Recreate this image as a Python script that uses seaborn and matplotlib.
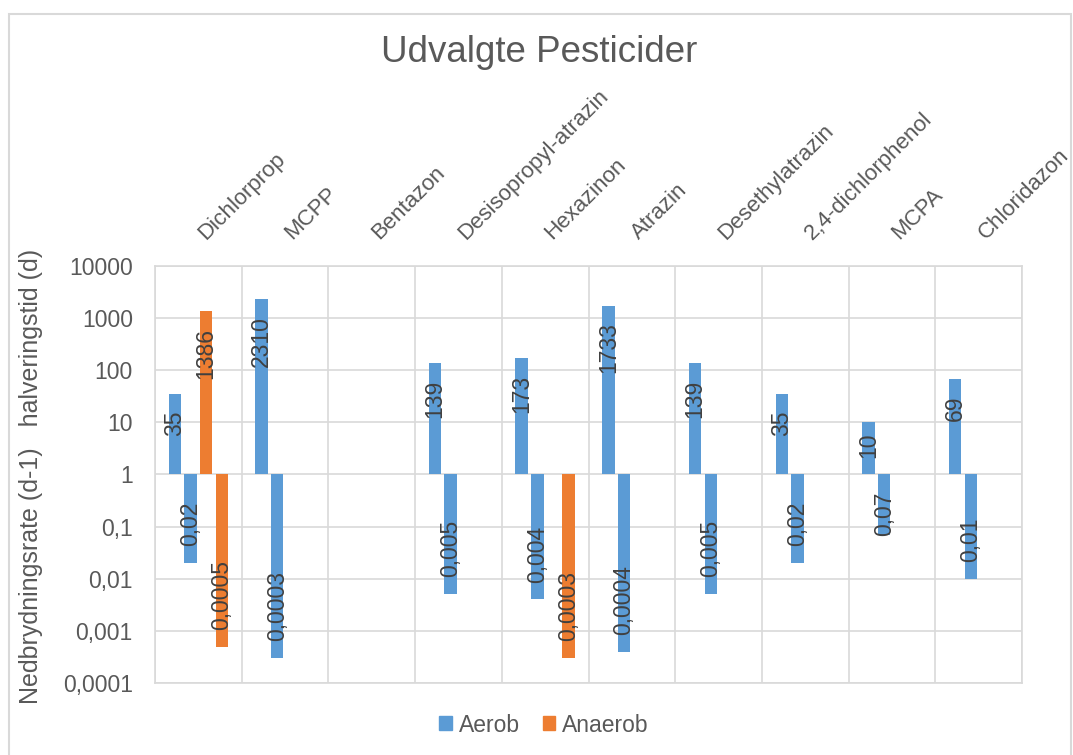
import numpy as np
import pandas as pd
import seaborn as sns
from matplotlib import pyplot as plt
from matplotlib.patches import Patch, Rectangle
from matplotlib.ticker import FuncFormatter, FixedLocator
import matplotlib.transforms as mtransforms

stoffer = ["Dichlorprop", "MCPP", "Bentazon", "Desisopropyl-atrazin", "Hexazinon",
           "Atrazin", "Desethylatrazin", "2,4-dichlorphenol", "MCPA", "Chloridazon"]
aerob_halv = [35, 2310, None, 139, 173, 1733, 139, 35, 10, 69]
aerob_rate = [0.02, 0.0003, None, 0.005, 0.004, 0.0004, 0.005, 0.02, 0.07, 0.01]
anaerob_halv = [1386, None, None, None, None, None, None, None, None, None]
anaerob_rate = [0.0005, None, None, None, 0.0003, None, None, None, None, None]

serier = ["Aerob halv", "Aerob rate", "Anaerob halv", "Anaerob rate"]
BLAA = "#5B9BD5"
ORANGE = "#ED7D31"
farver = [BLAA, BLAA, ORANGE, ORANGE]
GRAA = "#D9D9D9"
TEKST = "#595959"

rows = []
for serie, vals in zip(serier, [aerob_halv, aerob_rate, anaerob_halv, anaerob_rate]):
    for stof, v in zip(stoffer, vals):
        if v is not None:
            rows.append({"stof": stof, "serie": serie, "vaerdi": v})
df = pd.DataFrame(rows)
# Excel-agtig log-akse med base i 1: tegn log10 paa lineaer akse
df["log"] = np.log10(df["vaerdi"])
opslag = {(r.stof, r.serie): r.vaerdi for r in df.itertuples()}


def dansk(v):
    return "{:g}".format(v).replace(".", ",")


def akse_fmt(y, pos):
    k = int(round(y))
    if k >= 0:
        return str(10 ** k)
    return "0," + "0" * (-k - 1) + "1"


sns.set_style("white")
plt.rcParams["font.family"] = ["Liberation Sans", "DejaVu Sans"]

fig = plt.figure(figsize=(10.73, 7.55), dpi=100)
ax = fig.add_axes([155 / 1073, 1 - 683 / 755, 867 / 1073, 417 / 755])

sns.barplot(data=df, x="stof", y="log", hue="serie", order=stoffer, hue_order=serier,
            palette=farver, saturation=1, width=0.72, gap=0.2, errorbar=None,
            legend=False, linewidth=0, ax=ax)

ax.set_ylim(-4, 4)
ax.set_xlim(-0.5, len(stoffer) - 0.5)
ax.yaxis.set_major_locator(FixedLocator(range(-4, 5)))
ax.yaxis.set_major_formatter(FuncFormatter(akse_fmt))
ax.set_xticks(range(len(stoffer)))
ax.set_xticks(np.arange(-0.5, len(stoffer), 1), minor=True)
ax.xaxis.tick_top()
ax.set_xticklabels(stoffer, rotation=45, ha="left", va="bottom")
ax.tick_params(axis="x", which="both", length=0, pad=16, labelsize=16, labelcolor=TEKST)
ax.tick_params(axis="y", length=0, pad=16, labelsize=16.5, labelcolor=TEKST)
skub = mtransforms.ScaledTranslation(-4 / 100, 0, fig.dpi_scale_trans)
for lbl in ax.get_xticklabels():
    lbl.set_transform(lbl.get_transform() + skub)
ax.set_xlabel("")
ax.set_ylabel("")
ax.grid(False)
ax.grid(axis="y", which="major", color=GRAA, linewidth=1.2)
ax.grid(axis="x", which="minor", color=GRAA, linewidth=1.2)
ax.set_axisbelow(True)
for sp in ax.spines.values():
    sp.set_color(GRAA)
    sp.set_linewidth(1.2)

# dataetiketter
afstand = 12.2  # points, ca. 17 px
renderer = fig.canvas.get_renderer()
for p in ax.patches:
    h = p.get_height()
    if not np.isfinite(h) or h == 0:
        continue
    xc = p.get_x() + p.get_width() / 2
    idx = int(round(xc))
    slot = int(round((xc - idx) / 0.18 + 1.5))
    val = opslag[(stoffer[idx], serier[slot])]
    tegn = 1 if h > 0 else -1
    t = ax.annotate(dansk(val), (xc, h), xytext=(0, -tegn * afstand),
                    textcoords="offset points", rotation=90, ha="center",
                    va="top" if tegn > 0 else "bottom", fontsize=16.5,
                    color="#404040")
    bar_px = abs(ax.transData.transform((0, h))[1] - ax.transData.transform((0, 0))[1])
    lbl_px = t.get_window_extent(renderer).height
    if lbl_px + 2 * afstand * 100 / 72 > bar_px:
        t.xy = (xc, 0)
        t.set_position((0, tegn * afstand))
        t.set_va("bottom" if tegn > 0 else "top")

fig.text(539 / 1073, 1 - 52 / 755, "Udvalgte Pesticider", ha="center", va="center",
         fontsize=26.5, color=TEKST)
fig.text(31 / 1073, 1 - 476 / 755, "Nedbrydningsrate (d-1)   halveringstid (d)",
         rotation=90, ha="center", va="center", fontsize=18, color=TEKST)

handles = [Patch(color=BLAA, label="Aerob"), Patch(color=ORANGE, label="Anaerob")]
fig.legend(handles=handles, loc="center", bbox_to_anchor=(544 / 1073, 1 - 725 / 755),
           ncol=2, frameon=False, fontsize=16.5, labelcolor=TEKST, handlelength=0.55,
           handleheight=0.55, handletextpad=0.3, columnspacing=1.0)

fig.patches.append(Rectangle((9 / 1073, -0.05), 1062 / 1073, 1.05 - 14 / 755,
                             transform=fig.transFigure, fill=False, edgecolor=GRAA,
                             linewidth=1.5))

fig.savefig("out.png", dpi=100)
